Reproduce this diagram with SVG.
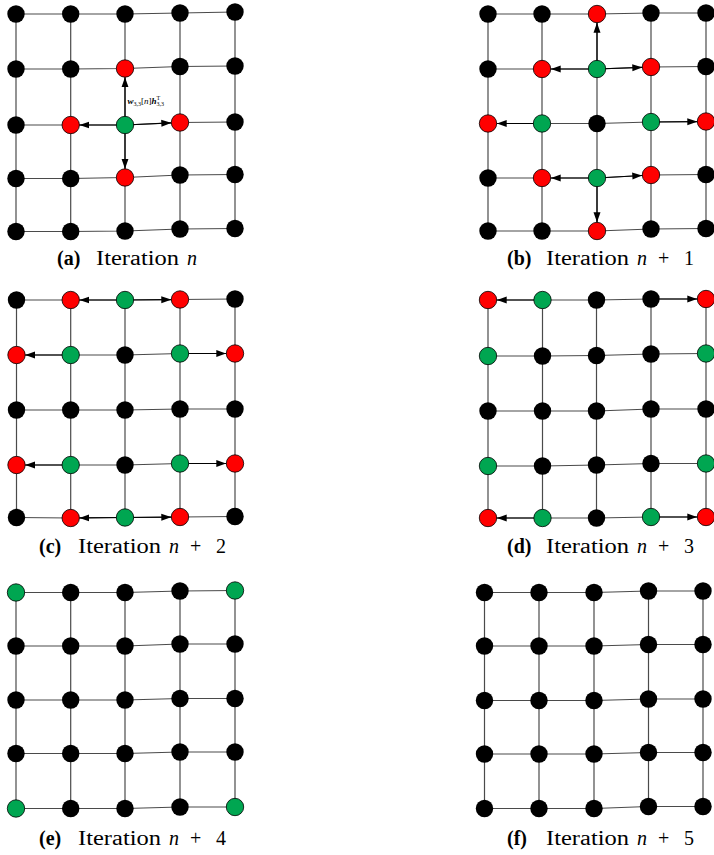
<svg xmlns="http://www.w3.org/2000/svg" width="714" height="855" viewBox="0 0 714 855">
<style>
.grid polyline{fill:none;stroke:#4a4a4a;stroke-width:1.2}
.arr line{stroke:#000;stroke-width:1.2;marker-end:url(#ah)}
.b{fill:#000}
.r{fill:#ff0000;stroke:#000;stroke-width:0.8}
.g{fill:#00a651;stroke:#000;stroke-width:0.8}
.serif{font-family:'Liberation Serif','Times New Roman',Times,'DejaVu Serif','Noto Serif',serif}
</style>
<defs>
<marker id="ah" markerUnits="userSpaceOnUse" markerWidth="10" markerHeight="8" refX="10" refY="4" orient="auto">
<path d="M0,0.5 L10,4 L0,7.5 z" fill="#000"/>
</marker>
</defs>
<rect width="714" height="855" fill="#fff"/>

<g id="connectors">
<g class="grid">
<!-- panel a -->
<polyline points="16,14 70.7,14 125,14 180,13 235,12"/>
<polyline points="16,69 70.7,69 125,68.5 180,66.5 235,66"/>
<polyline points="16,125 70.7,125 125,125 180,122.5 235,122"/>
<polyline points="16,178.5 70.7,178.5 125,177.5 180,175 235,174.5"/>
<polyline points="16,231.5 70.7,231.5 125,231 180,229 235,228.5"/>
<polyline points="16,14 16,69 16,125 16,178.5 16,231.5"/>
<polyline points="70.7,14 70.7,69 70.7,125 70.7,178.5 70.7,231.5"/>
<polyline points="125,14 125,68.5 125,125 125,177.5 125,231"/>
<polyline points="180,13 180,66.5 180,122.5 180,175 180,229"/>
<polyline points="235,12 235,66 235,122 235,174.5 235,228.5"/>
<!-- panel b -->
<polyline points="488,14 542,14 597,14 651,13 706,13"/>
<polyline points="488,69 542,69 597,69 651,67 706,66.5"/>
<polyline points="488,123.5 542,123.5 597,123.5 651,122 706,121.5"/>
<polyline points="488,178 542,178 597,178 651,175 706,174.5"/>
<polyline points="488,231 542,231 597,231 651,229 706,228.5"/>
<polyline points="488,14 488,69 488,123.5 488,178 488,231"/>
<polyline points="542,14 542,69 542,123.5 542,178 542,231"/>
<polyline points="597,14 597,69 597,123.5 597,178 597,231"/>
<polyline points="651,13 651,67 651,122 651,175 651,229"/>
<polyline points="706,13 706,66.5 706,121.5 706,174.5 706,228.5"/>
<!-- panel c -->
<polyline points="16.5,300 70.7,300 125,300 180,299.5 235,299"/>
<polyline points="16.5,355 70.7,355 125,355 180,353.5 235,353.5"/>
<polyline points="16.5,410 70.7,410 125,410 180,409 235,409"/>
<polyline points="16.5,465 70.7,465 125,465 180,463.5 235,463.5"/>
<polyline points="16.5,517.5 70.7,518 125,517.5 180,517 235,516.5"/>
<polyline points="16.5,300 16.5,355 16.5,410 16.5,465 16.5,517.5"/>
<polyline points="70.7,300 70.7,355 70.7,410 70.7,465 70.7,518"/>
<polyline points="125,300 125,355 125,410 125,465 125,517.5"/>
<polyline points="180,299.5 180,353.5 180,409 180,463.5 180,517"/>
<polyline points="235,299 235,353.5 235,409 235,463.5 235,516.5"/>
<!-- panel d -->
<polyline points="488,300 542.5,300 596.5,300 651,299 706,299"/>
<polyline points="488,356 542.5,356 596.5,355.5 651,354 706,353.5"/>
<polyline points="488,411 542.5,411 596.5,411 651,409 706,409"/>
<polyline points="488,466 542.5,466 596.5,465 651,463.5 706,463.5"/>
<polyline points="488,518 542.5,518 596.5,518 651,517 706,517"/>
<polyline points="488,300 488,356 488,411 488,466 488,518"/>
<polyline points="542.5,300 542.5,356 542.5,411 542.5,466 542.5,518"/>
<polyline points="596.5,300 596.5,355.5 596.5,411 596.5,465 596.5,518"/>
<polyline points="651,299 651,354 651,409 651,463.5 651,517"/>
<polyline points="706,299 706,353.5 706,409 706,463.5 706,517"/>
<!-- panel e -->
<polyline points="16,592.5 70.7,592.5 125,592.5 180,591 235,590.5"/>
<polyline points="16,646 70.7,646 125,646 180,644 235,644"/>
<polyline points="16,700 70.7,700 125,700 180,698.5 235,698.5"/>
<polyline points="16,753.5 70.7,753.5 125,753.5 180,752 235,752"/>
<polyline points="16,808.5 70.7,808.5 125,808.5 180,807 235,807"/>
<polyline points="16,592.5 16,646 16,700 16,753.5 16,808.5"/>
<polyline points="70.7,592.5 70.7,646 70.7,700 70.7,753.5 70.7,808.5"/>
<polyline points="125,592.5 125,646 125,700 125,753.5 125,808.5"/>
<polyline points="180,591 180,644 180,698.5 180,752 180,807"/>
<polyline points="235,590.5 235,644 235,698.5 235,752 235,807"/>
<!-- panel f -->
<polyline points="484.5,592.5 539,592.5 594,592.5 648.5,591 703,591"/>
<polyline points="484.5,646 539,646 594,646 648.5,644.5 703,644.5"/>
<polyline points="484.5,700.5 539,700.5 594,700.5 648.5,699 703,699"/>
<polyline points="484.5,754 539,754 594,754 648.5,752.5 703,752.5"/>
<polyline points="484.5,808.5 539,808.5 594,808.5 648.5,806.5 703,806.5"/>
<polyline points="484.5,592.5 484.5,646 484.5,700.5 484.5,754 484.5,808.5"/>
<polyline points="539,592.5 539,646 539,700.5 539,754 539,808.5"/>
<polyline points="594,592.5 594,646 594,700.5 594,754 594,808.5"/>
<polyline points="648.5,591 648.5,644.5 648.5,699 648.5,752.5 648.5,806.5"/>
<polyline points="703,591 703,644.5 703,699 703,752.5 703,806.5"/>
</g>
<g class="arr">
<!-- a -->
<line x1="125" y1="125" x2="125" y2="77.2"/>
<line x1="125" y1="125" x2="79.4" y2="125"/>
<line x1="125" y1="125" x2="171.3" y2="122.9"/>
<line x1="125" y1="125" x2="125" y2="168.8"/>
<!-- b -->
<line x1="597" y1="69" x2="597" y2="22.7"/>
<line x1="597" y1="69" x2="550.7" y2="69"/>
<line x1="597" y1="69" x2="642.3" y2="67.3"/>
<line x1="542" y1="123.5" x2="496.7" y2="123.5"/>
<line x1="651" y1="122" x2="697.3" y2="121.6"/>
<line x1="597" y1="178" x2="550.7" y2="178"/>
<line x1="597" y1="178" x2="642.3" y2="175.5"/>
<line x1="597" y1="178" x2="597" y2="222.3"/>
<!-- c -->
<line x1="125" y1="300" x2="79.4" y2="300"/>
<line x1="125" y1="300" x2="171.3" y2="299.6"/>
<line x1="70.7" y1="355" x2="25.2" y2="355"/>
<line x1="180" y1="353.5" x2="226.3" y2="353.5"/>
<line x1="70.7" y1="465" x2="25.2" y2="465"/>
<line x1="180" y1="463.5" x2="226.3" y2="463.5"/>
<line x1="125" y1="517.5" x2="79.4" y2="517.9"/>
<line x1="125" y1="517.5" x2="171.3" y2="517.1"/>
<!-- d -->
<line x1="542.5" y1="300" x2="496.7" y2="300"/>
<line x1="651" y1="299" x2="697.3" y2="299"/>
<line x1="542.5" y1="518" x2="496.7" y2="518"/>
<line x1="651" y1="517" x2="697.3" y2="517"/>
</g>
</g>

<!-- panel a nodes -->
<g id="a11"><circle class="b" cx="16" cy="14" r="8.7"/></g>
<g id="a12"><circle class="b" cx="70.7" cy="14" r="8.7"/></g>
<g id="a13"><circle class="b" cx="125" cy="14" r="8.7"/></g>
<g id="a14"><circle class="b" cx="180" cy="13" r="8.7"/></g>
<g id="a15"><circle class="b" cx="235" cy="12" r="8.7"/></g>
<g id="a21"><circle class="b" cx="16" cy="69" r="8.7"/></g>
<g id="a22"><circle class="b" cx="70.7" cy="69" r="8.7"/></g>
<g id="a23"><circle class="r" cx="125" cy="68.5" r="8.7"/></g>
<g id="a24"><circle class="b" cx="180" cy="66.5" r="8.7"/></g>
<g id="a25"><circle class="b" cx="235" cy="66" r="8.7"/></g>
<g id="a31"><circle class="b" cx="16" cy="125" r="8.7"/></g>
<g id="a32"><circle class="r" cx="70.7" cy="125" r="8.7"/></g>
<g id="a33"><circle class="g" cx="125" cy="125" r="8.7"/></g>
<g id="a34"><circle class="r" cx="180" cy="122.5" r="8.7"/></g>
<g id="a35"><circle class="b" cx="235" cy="122" r="8.7"/></g>
<g id="a41"><circle class="b" cx="16" cy="178.5" r="8.7"/></g>
<g id="a42"><circle class="b" cx="70.7" cy="178.5" r="8.7"/></g>
<g id="a43"><circle class="r" cx="125" cy="177.5" r="8.7"/></g>
<g id="a44"><circle class="b" cx="180" cy="175" r="8.7"/></g>
<g id="a45"><circle class="b" cx="235" cy="174.5" r="8.7"/></g>
<g id="a51"><circle class="b" cx="16" cy="231.5" r="8.7"/></g>
<g id="a52"><circle class="b" cx="70.7" cy="231.5" r="8.7"/></g>
<g id="a53"><circle class="b" cx="125" cy="231" r="8.7"/></g>
<g id="a54"><circle class="b" cx="180" cy="229" r="8.7"/></g>
<g id="a55"><circle class="b" cx="235" cy="228.5" r="8.7"/></g>
<g id="a-label"><text class="serif" x="127.5" y="104" font-size="9" fill="#000"><tspan font-weight="bold" font-style="italic">w</tspan><tspan font-size="6" dy="2">3,3</tspan><tspan dy="-2">[</tspan><tspan font-style="italic">n</tspan><tspan>]</tspan><tspan font-weight="bold" font-style="italic">h</tspan><tspan font-size="6" dy="-4">T</tspan><tspan font-size="6" dx="-3.7" dy="6">3,3</tspan></text></g>

<!-- panel b nodes -->
<g id="b11"><circle class="b" cx="488" cy="14" r="8.7"/></g>
<g id="b12"><circle class="b" cx="542" cy="14" r="8.7"/></g>
<g id="b13"><circle class="r" cx="597" cy="14" r="8.7"/></g>
<g id="b14"><circle class="b" cx="651" cy="13" r="8.7"/></g>
<g id="b15"><circle class="b" cx="706" cy="13" r="8.7"/></g>
<g id="b21"><circle class="b" cx="488" cy="69" r="8.7"/></g>
<g id="b22"><circle class="r" cx="542" cy="69" r="8.7"/></g>
<g id="b23"><circle class="g" cx="597" cy="69" r="8.7"/></g>
<g id="b24"><circle class="r" cx="651" cy="67" r="8.7"/></g>
<g id="b25"><circle class="b" cx="706" cy="66.5" r="8.7"/></g>
<g id="b31"><circle class="r" cx="488" cy="123.5" r="8.7"/></g>
<g id="b32"><circle class="g" cx="542" cy="123.5" r="8.7"/></g>
<g id="b33"><circle class="b" cx="597" cy="123.5" r="8.7"/></g>
<g id="b34"><circle class="g" cx="651" cy="122" r="8.7"/></g>
<g id="b35"><circle class="r" cx="706" cy="121.5" r="8.7"/></g>
<g id="b41"><circle class="b" cx="488" cy="178" r="8.7"/></g>
<g id="b42"><circle class="r" cx="542" cy="178" r="8.7"/></g>
<g id="b43"><circle class="g" cx="597" cy="178" r="8.7"/></g>
<g id="b44"><circle class="r" cx="651" cy="175" r="8.7"/></g>
<g id="b45"><circle class="b" cx="706" cy="174.5" r="8.7"/></g>
<g id="b51"><circle class="b" cx="488" cy="231" r="8.7"/></g>
<g id="b52"><circle class="b" cx="542" cy="231" r="8.7"/></g>
<g id="b53"><circle class="r" cx="597" cy="231" r="8.7"/></g>
<g id="b54"><circle class="b" cx="651" cy="229" r="8.7"/></g>
<g id="b55"><circle class="b" cx="706" cy="228.5" r="8.7"/></g>

<!-- panel c nodes -->
<g id="c11"><circle class="b" cx="16.5" cy="300" r="8.7"/></g>
<g id="c12"><circle class="r" cx="70.7" cy="300" r="8.7"/></g>
<g id="c13"><circle class="g" cx="125" cy="300" r="8.7"/></g>
<g id="c14"><circle class="r" cx="180" cy="299.5" r="8.7"/></g>
<g id="c15"><circle class="b" cx="235" cy="299" r="8.7"/></g>
<g id="c21"><circle class="r" cx="16.5" cy="355" r="8.7"/></g>
<g id="c22"><circle class="g" cx="70.7" cy="355" r="8.7"/></g>
<g id="c23"><circle class="b" cx="125" cy="355" r="8.7"/></g>
<g id="c24"><circle class="g" cx="180" cy="353.5" r="8.7"/></g>
<g id="c25"><circle class="r" cx="235" cy="353.5" r="8.7"/></g>
<g id="c31"><circle class="b" cx="16.5" cy="410" r="8.7"/></g>
<g id="c32"><circle class="b" cx="70.7" cy="410" r="8.7"/></g>
<g id="c33"><circle class="b" cx="125" cy="410" r="8.7"/></g>
<g id="c34"><circle class="b" cx="180" cy="409" r="8.7"/></g>
<g id="c35"><circle class="b" cx="235" cy="409" r="8.7"/></g>
<g id="c41"><circle class="r" cx="16.5" cy="465" r="8.7"/></g>
<g id="c42"><circle class="g" cx="70.7" cy="465" r="8.7"/></g>
<g id="c43"><circle class="b" cx="125" cy="465" r="8.7"/></g>
<g id="c44"><circle class="g" cx="180" cy="463.5" r="8.7"/></g>
<g id="c45"><circle class="r" cx="235" cy="463.5" r="8.7"/></g>
<g id="c51"><circle class="b" cx="16.5" cy="517.5" r="8.7"/></g>
<g id="c52"><circle class="r" cx="70.7" cy="518" r="8.7"/></g>
<g id="c53"><circle class="g" cx="125" cy="517.5" r="8.7"/></g>
<g id="c54"><circle class="r" cx="180" cy="517" r="8.7"/></g>
<g id="c55"><circle class="b" cx="235" cy="516.5" r="8.7"/></g>

<!-- panel d nodes -->
<g id="d11"><circle class="r" cx="488" cy="300" r="8.7"/></g>
<g id="d12"><circle class="g" cx="542.5" cy="300" r="8.7"/></g>
<g id="d13"><circle class="b" cx="596.5" cy="300" r="8.7"/></g>
<g id="d14"><circle class="b" cx="651" cy="299" r="8.7"/></g>
<g id="d15"><circle class="r" cx="706" cy="299" r="8.7"/></g>
<g id="d21"><circle class="g" cx="488" cy="356" r="8.7"/></g>
<g id="d22"><circle class="b" cx="542.5" cy="356" r="8.7"/></g>
<g id="d23"><circle class="b" cx="596.5" cy="355.5" r="8.7"/></g>
<g id="d24"><circle class="b" cx="651" cy="354" r="8.7"/></g>
<g id="d25"><circle class="g" cx="706" cy="353.5" r="8.7"/></g>
<g id="d31"><circle class="b" cx="488" cy="411" r="8.7"/></g>
<g id="d32"><circle class="b" cx="542.5" cy="411" r="8.7"/></g>
<g id="d33"><circle class="b" cx="596.5" cy="411" r="8.7"/></g>
<g id="d34"><circle class="b" cx="651" cy="409" r="8.7"/></g>
<g id="d35"><circle class="b" cx="706" cy="409" r="8.7"/></g>
<g id="d41"><circle class="g" cx="488" cy="466" r="8.7"/></g>
<g id="d42"><circle class="b" cx="542.5" cy="466" r="8.7"/></g>
<g id="d43"><circle class="b" cx="596.5" cy="465" r="8.7"/></g>
<g id="d44"><circle class="b" cx="651" cy="463.5" r="8.7"/></g>
<g id="d45"><circle class="g" cx="706" cy="463.5" r="8.7"/></g>
<g id="d51"><circle class="r" cx="488" cy="518" r="8.7"/></g>
<g id="d52"><circle class="g" cx="542.5" cy="518" r="8.7"/></g>
<g id="d53"><circle class="b" cx="596.5" cy="518" r="8.7"/></g>
<g id="d54"><circle class="g" cx="651" cy="517" r="8.7"/></g>
<g id="d55"><circle class="r" cx="706" cy="517" r="8.7"/></g>

<!-- panel e nodes -->
<g id="e11"><circle class="g" cx="16" cy="592.5" r="8.7"/></g>
<g id="e12"><circle class="b" cx="70.7" cy="592.5" r="8.7"/></g>
<g id="e13"><circle class="b" cx="125" cy="592.5" r="8.7"/></g>
<g id="e14"><circle class="b" cx="180" cy="591" r="8.7"/></g>
<g id="e15"><circle class="g" cx="235" cy="590.5" r="8.7"/></g>
<g id="e21"><circle class="b" cx="16" cy="646" r="8.7"/></g>
<g id="e22"><circle class="b" cx="70.7" cy="646" r="8.7"/></g>
<g id="e23"><circle class="b" cx="125" cy="646" r="8.7"/></g>
<g id="e24"><circle class="b" cx="180" cy="644" r="8.7"/></g>
<g id="e25"><circle class="b" cx="235" cy="644" r="8.7"/></g>
<g id="e31"><circle class="b" cx="16" cy="700" r="8.7"/></g>
<g id="e32"><circle class="b" cx="70.7" cy="700" r="8.7"/></g>
<g id="e33"><circle class="b" cx="125" cy="700" r="8.7"/></g>
<g id="e34"><circle class="b" cx="180" cy="698.5" r="8.7"/></g>
<g id="e35"><circle class="b" cx="235" cy="698.5" r="8.7"/></g>
<g id="e41"><circle class="b" cx="16" cy="753.5" r="8.7"/></g>
<g id="e42"><circle class="b" cx="70.7" cy="753.5" r="8.7"/></g>
<g id="e43"><circle class="b" cx="125" cy="753.5" r="8.7"/></g>
<g id="e44"><circle class="b" cx="180" cy="752" r="8.7"/></g>
<g id="e45"><circle class="b" cx="235" cy="752" r="8.7"/></g>
<g id="e51"><circle class="g" cx="16" cy="808.5" r="8.7"/></g>
<g id="e52"><circle class="b" cx="70.7" cy="808.5" r="8.7"/></g>
<g id="e53"><circle class="b" cx="125" cy="808.5" r="8.7"/></g>
<g id="e54"><circle class="b" cx="180" cy="807" r="8.7"/></g>
<g id="e55"><circle class="g" cx="235" cy="807" r="8.7"/></g>

<!-- panel f nodes -->
<g id="f11"><circle class="b" cx="484.5" cy="592.5" r="8.7"/></g>
<g id="f12"><circle class="b" cx="539" cy="592.5" r="8.7"/></g>
<g id="f13"><circle class="b" cx="594" cy="592.5" r="8.7"/></g>
<g id="f14"><circle class="b" cx="648.5" cy="591" r="8.7"/></g>
<g id="f15"><circle class="b" cx="703" cy="591" r="8.7"/></g>
<g id="f21"><circle class="b" cx="484.5" cy="646" r="8.7"/></g>
<g id="f22"><circle class="b" cx="539" cy="646" r="8.7"/></g>
<g id="f23"><circle class="b" cx="594" cy="646" r="8.7"/></g>
<g id="f24"><circle class="b" cx="648.5" cy="644.5" r="8.7"/></g>
<g id="f25"><circle class="b" cx="703" cy="644.5" r="8.7"/></g>
<g id="f31"><circle class="b" cx="484.5" cy="700.5" r="8.7"/></g>
<g id="f32"><circle class="b" cx="539" cy="700.5" r="8.7"/></g>
<g id="f33"><circle class="b" cx="594" cy="700.5" r="8.7"/></g>
<g id="f34"><circle class="b" cx="648.5" cy="699" r="8.7"/></g>
<g id="f35"><circle class="b" cx="703" cy="699" r="8.7"/></g>
<g id="f41"><circle class="b" cx="484.5" cy="754" r="8.7"/></g>
<g id="f42"><circle class="b" cx="539" cy="754" r="8.7"/></g>
<g id="f43"><circle class="b" cx="594" cy="754" r="8.7"/></g>
<g id="f44"><circle class="b" cx="648.5" cy="752.5" r="8.7"/></g>
<g id="f45"><circle class="b" cx="703" cy="752.5" r="8.7"/></g>
<g id="f51"><circle class="b" cx="484.5" cy="808.5" r="8.7"/></g>
<g id="f52"><circle class="b" cx="539" cy="808.5" r="8.7"/></g>
<g id="f53"><circle class="b" cx="594" cy="808.5" r="8.7"/></g>
<g id="f54"><circle class="b" cx="648.5" cy="806.5" r="8.7"/></g>
<g id="f55"><circle class="b" cx="703" cy="806.5" r="8.7"/></g>

<!-- captions -->
<g id="captions" class="serif" font-size="20" fill="#000">
<text y="265"><tspan font-weight="bold" x="57">(a)</tspan><tspan x="96" textLength="83" lengthAdjust="spacingAndGlyphs">Iteration</tspan><tspan font-style="italic" x="187">n</tspan></text>
<text y="265"><tspan font-weight="bold" x="507">(b)</tspan><tspan x="546" textLength="83" lengthAdjust="spacingAndGlyphs">Iteration</tspan><tspan font-style="italic" x="637">n</tspan><tspan x="658">+</tspan><tspan x="684">1</tspan></text>
<text y="553"><tspan font-weight="bold" x="39">(c)</tspan><tspan x="78" textLength="83" lengthAdjust="spacingAndGlyphs">Iteration</tspan><tspan font-style="italic" x="169">n</tspan><tspan x="190">+</tspan><tspan x="216">2</tspan></text>
<text y="553"><tspan font-weight="bold" x="507">(d)</tspan><tspan x="546" textLength="83" lengthAdjust="spacingAndGlyphs">Iteration</tspan><tspan font-style="italic" x="637">n</tspan><tspan x="658">+</tspan><tspan x="684">3</tspan></text>
<text y="845"><tspan font-weight="bold" x="39">(e)</tspan><tspan x="78" textLength="83" lengthAdjust="spacingAndGlyphs">Iteration</tspan><tspan font-style="italic" x="169">n</tspan><tspan x="190">+</tspan><tspan x="216">4</tspan></text>
<text y="845"><tspan font-weight="bold" x="507">(f)</tspan><tspan x="546" textLength="83" lengthAdjust="spacingAndGlyphs">Iteration</tspan><tspan font-style="italic" x="637">n</tspan><tspan x="658">+</tspan><tspan x="684">5</tspan></text>
</g>
</svg>
